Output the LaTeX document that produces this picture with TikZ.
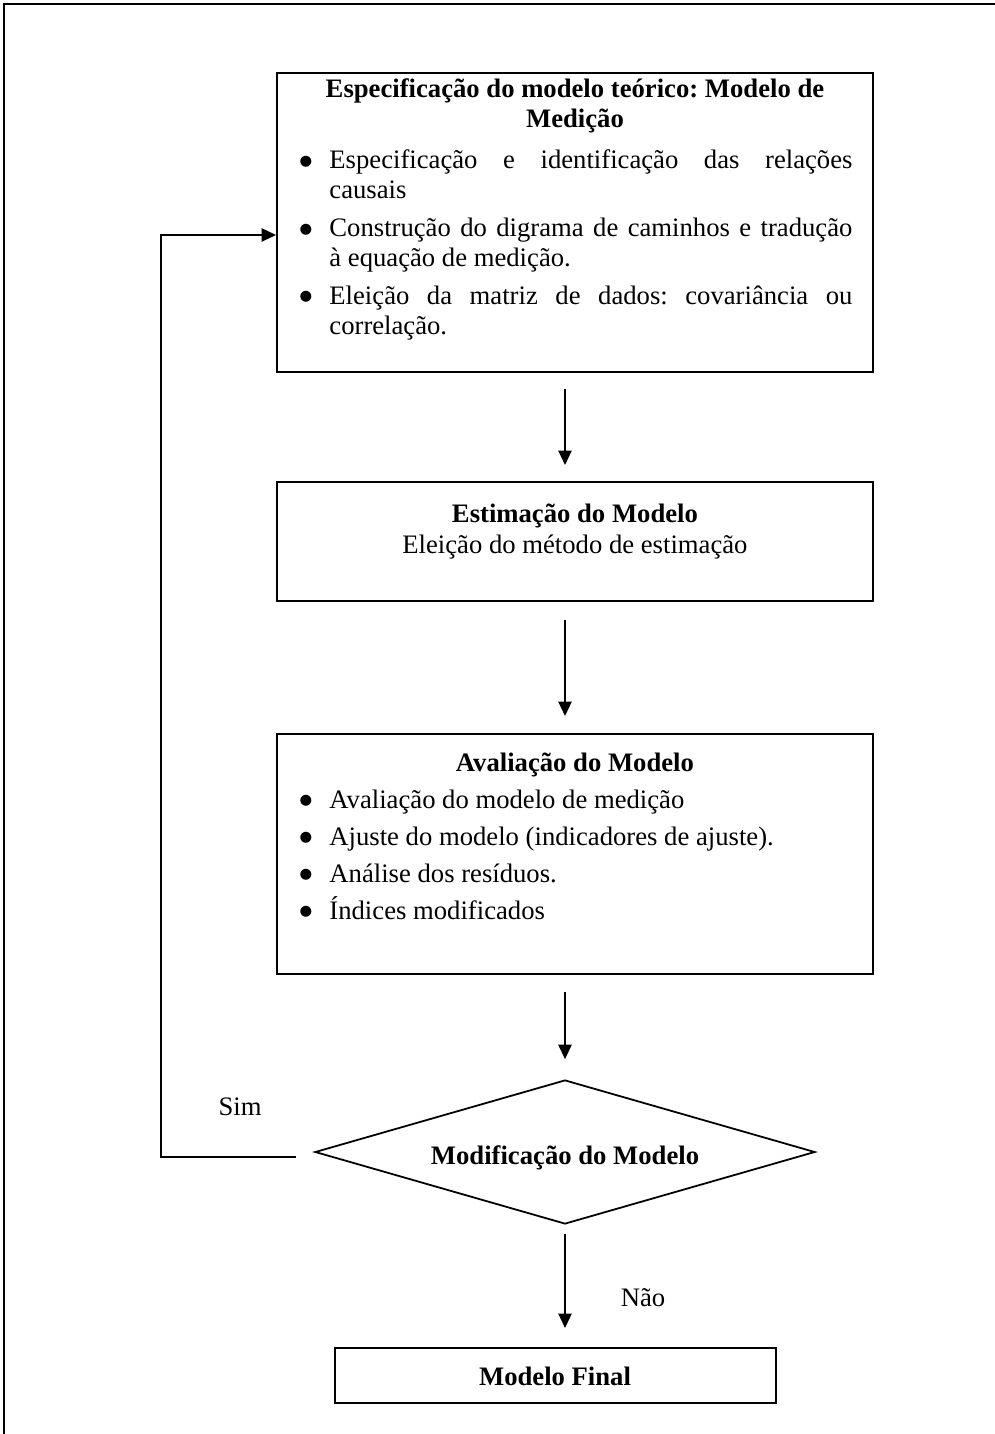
\documentclass[tikz,border=0pt]{standalone}
\usepackage{fontspec}
\setmainfont{Liberation Serif}
\newfontfamily\dejavu{DejaVu Sans}
\usetikzlibrary{arrows.meta,shapes.geometric}
\newcommand\bigbul{\raisebox{1.6pt}{\dejavu\fontsize{6.5}{7}\selectfont ●}}
\newcommand\bitem[1]{\par\noindent\hangindent=14.4pt\hangafter=1\makebox[14.4pt][l]{\hspace{1pt}\bigbul}#1}
\tikzset{
  box/.style={draw, line width=0.85pt, inner sep=0pt, anchor=north west},
  arr/.style={line width=0.7pt, -{Triangle[length=6.5pt,width=6pt]}},
  txt/.style={inner sep=0pt, anchor=base west, font=\fontsize{12}{13.5}\selectfont},
  lbl/.style={inner sep=0pt, font=\fontsize{12}{13.5}\selectfont},
}
\begin{document}
\frenchspacing
\begin{tikzpicture}[x=0.45pt,y=-0.45pt]
\useasboundingbox (0,0) rectangle (995,1434);
% outer frame (top and left)
\draw[line width=1.2pt] (4,1434) -- (4,4) -- (995,4);
% boxes
\node[box, minimum width=268.2pt, minimum height=134.55pt] (b1) at (276,72) {};
\node[box, minimum width=268.2pt, minimum height=53.55pt] (b2) at (276,481) {};
\node[box, minimum width=268.2pt, minimum height=108pt] (b3) at (276,733) {};
\node[draw, diamond, line width=0.8pt, inner sep=0pt, minimum width=225pt, minimum height=64.8pt] (dm) at (565,1152) {};
\node[box, minimum width=198.45pt, minimum height=24.75pt] (fin) at (334,1347) {};
\node[lbl, font=\fontsize{12}{13.5}\selectfont\bfseries] (fint) at (555,1376) {Modelo Final};
% texts
\node[txt] (t1) at (297,98) {\begin{minipage}[t]{249.75pt}\fontsize{12}{13.5}\selectfont\frenchspacing
{\centering\bfseries Especificação do modelo teórico: Modelo de\\ Medição\par}
\vspace{4.9pt}
\bitem{Especificação e identificação das relações\linebreak causais}
\par\vspace{3.5pt}
\bitem{Construção do digrama de caminhos e tradução\linebreak à equação de medição.}
\par\vspace{3.5pt}
\bitem{Eleição da matriz de dados: covariância ou\linebreak correlação.}
\par
\end{minipage}};
\node[txt] (t2) at (297,523) {\begin{minipage}[t]{249.75pt}\fontsize{12}{13.5}\selectfont
\centering{\bfseries Estimação do Modelo}\\ Eleição do método de estimação\par
\end{minipage}};
\node[txt] (t3) at (297,771) {\begin{minipage}[t]{249.75pt}\fontsize{12}{13.5}\selectfont
{\centering\bfseries Avaliação do Modelo\par}
\vspace{3.15pt}
\bitem{Avaliação do modelo de medição}
\par\vspace{3.15pt}
\bitem{Ajuste do modelo (indicadores de ajuste).}
\par\vspace{3.15pt}
\bitem{Análise dos resíduos.}
\par\vspace{3.15pt}
\bitem{Índices modificados}
\par
\end{minipage}};
\node[lbl, font=\fontsize{12}{13.5}\selectfont\bfseries] (dmt) at (565,1158) {Modificação do Modelo};
\node[lbl] (sim) at (240,1107) {Sim};
\node[lbl] (nao) at (643,1298) {Não};
% connectors
\coordinate (ax) at (565,0);
\draw[arr, shorten <=7.2pt, shorten >=7.2pt] (b1.south -| ax) -- (b2.north -| ax);
\draw[arr, shorten <=8.1pt, shorten >=7.65pt] (b2.south -| ax) -- (b3.north -| ax);
\draw[arr, shorten <=7.65pt, shorten >=9pt] (b3.south -| ax) -- (dm.north);
\draw[arr, shorten <=4pt, shorten >=8.55pt] (dm.south) -- (fin.north -| ax);
\coordinate (fb) at (296,1157);
\coordinate (fbc) at (161,235);
\draw[arr] (fb) -| (fbc) -- (fbc -| b1.west);
\end{tikzpicture}
\end{document}
